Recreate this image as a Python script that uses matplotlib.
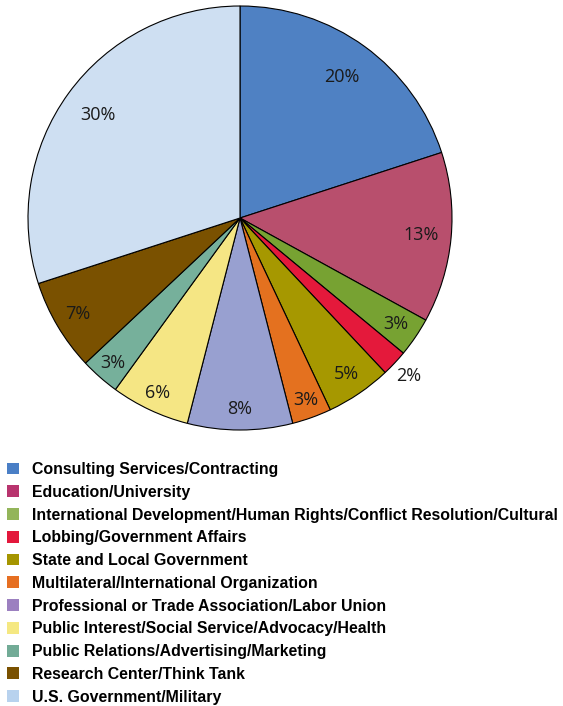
import numpy as np
import matplotlib
matplotlib.use("Agg")
import matplotlib.pyplot as plt
from matplotlib.patches import Patch

categories = [
    "Consulting Services/Contracting",
    "Education/University",
    "International Development/Human Rights/Conflict Resolution/Cultural",
    "Lobbing/Government Affairs",
    "State and Local Government",
    "Multilateral/International Organization",
    "Professional or Trade Association/Labor Union",
    "Public Interest/Social Service/Advocacy/Health",
    "Public Relations/Advertising/Marketing",
    "Research Center/Think Tank",
    "U.S. Government/Military",
]
shares = [20, 13, 3, 2, 5, 3, 8, 6, 3, 7, 30]

# Farben im Kreis und in der Legende sind leicht verschieden
pie_colors = ["#4f81c3", "#b84f6d", "#77a232", "#e4193b", "#a69800", "#e4711f",
              "#98a0d0", "#f5e684", "#76b09b", "#7a5100", "#cedff2"]
legend_colors = ["#4a7fc6", "#b8346e", "#93b55a", "#e3183c", "#a59500", "#e66f22",
                 "#9c80c0", "#f5e882", "#72ab96", "#7a5100", "#b8d2ee"]

# Abstand der Prozentwerte vom Mittelpunkt (relativ zum Radius)
label_r = [0.82, 0.86, 0.89, 1.09, 0.89, 0.91, 0.90, 0.91, 0.91, 0.89, 0.83]

fig = plt.figure(figsize=(5.63, 7.06), dpi=100)
ax = fig.add_axes([28 / 563, 276 / 706, 424 / 563, 424 / 706])

wedges, _ = ax.pie(shares, colors=pie_colors, startangle=90, counterclock=False,
                   radius=1.0, wedgeprops=dict(edgecolor="black", linewidth=0.8))

for w, val, r in zip(wedges, shares, label_r):
    ang = np.deg2rad((w.theta1 + w.theta2) / 2)
    ax.text(r * np.cos(ang), r * np.sin(ang), f"{val}%", ha="center", va="center",
            fontsize=13, family="Open Sans", color="#1a1a1a")

ax.set_xlim(-1, 1)
ax.set_ylim(-1, 1)
ax.set_aspect("equal")
ax.axis("off")

handles = [Patch(facecolor=c, edgecolor="none") for c in legend_colors]
fig.legend(handles, categories, loc="upper left", bbox_to_anchor=(7 / 563, 1 - 462 / 706),
           frameon=False, handlelength=0.78, handleheight=0.78, handletextpad=0.78,
           labelspacing=0.49, borderaxespad=0, borderpad=0,
           prop=dict(family="Liberation Sans", weight="bold", size=11.4))

fig.savefig("out.png", dpi=100)
